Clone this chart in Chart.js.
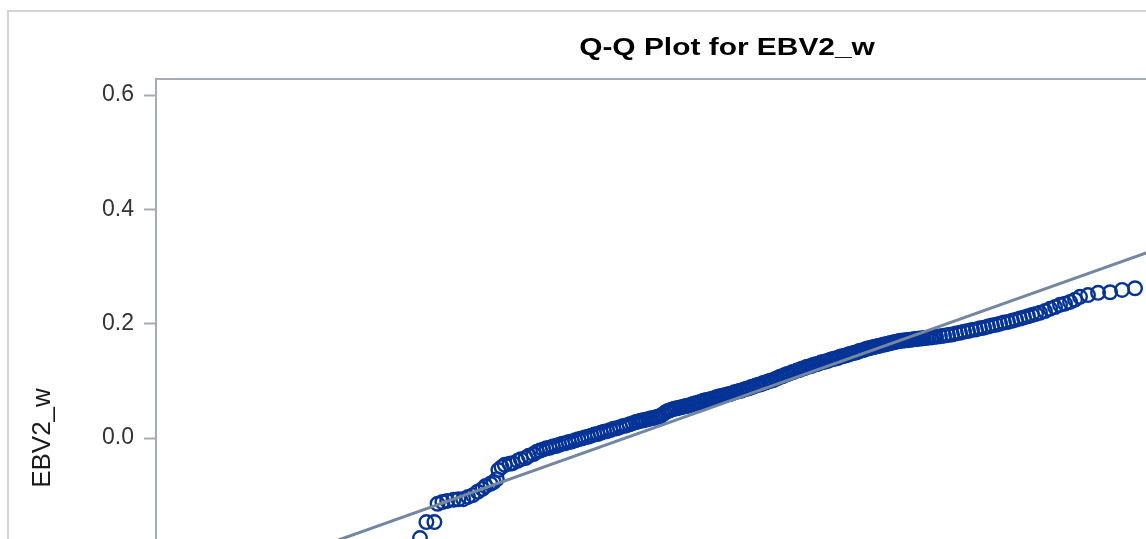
<!DOCTYPE html>
<html>
<head>
<meta charset="utf-8">
<title>Q-Q Plot for EBV2_w</title>
<script src="https://cdn.jsdelivr.net/npm/chart.js@4.4.1/dist/chart.umd.min.js"></script>
<style>
  html, body { margin: 0; padding: 0; background: #ffffff; overflow: hidden; }
  #wrap { position: absolute; left: 0; top: 0; width: 1460px; height: 860px; }
</style>
</head>
<body>
<div id="wrap"><canvas id="qq" width="1460" height="860"></canvas></div>
<script>
// Normal quantiles (x) of the ordered observations
const normalQuantiles = [
  -2.35, -2.31, -2.26, -2.24, -2.21, -2.18, -2.14, -2.11, -2.08, -2.05,
  -2.02, -1.99, -1.96, -1.94, -1.91, -1.89, -1.87, -1.86, -1.84, -1.82,
  -1.79, -1.77, -1.74, -1.72, -1.69, -1.67, -1.64, -1.62, -1.60,
  -1.58, -1.56, -1.54, -1.52, -1.50, -1.48, -1.46, -1.44, -1.42, -1.40,
  -1.38, -1.36, -1.34, -1.32, -1.30, -1.28, -1.26, -1.24, -1.22, -1.20,
  -1.18, -1.16, -1.14, -1.12, -1.10, -1.08, -1.06, -1.04, -1.02, -1.00,
  -0.985, -0.970, -0.955, -0.940, -0.925, -0.910, -0.895, -0.880, -0.865, -0.850,
  -0.835, -0.820, -0.805, -0.790, -0.775, -0.760, -0.745, -0.730, -0.715, -0.700,
  -0.685, -0.670, -0.655, -0.640, -0.625, -0.610, -0.595, -0.580, -0.565, -0.550,
  -0.535, -0.520, -0.505, -0.490, -0.475, -0.460, -0.445, -0.430, -0.415, -0.400,
  -0.385, -0.370, -0.355, -0.340, -0.325, -0.310, -0.295, -0.280, -0.265, -0.250,
  -0.235, -0.220, -0.205, -0.190, -0.175, -0.160, -0.145, -0.130, -0.115, -0.100,
  -0.085, -0.070, -0.055, -0.040, -0.025, -0.010, 0.005, 0.020, 0.035, 0.050,
  0.065, 0.080, 0.095, 0.110, 0.125, 0.140, 0.155, 0.170, 0.185, 0.200,
  0.215, 0.230, 0.245, 0.260, 0.275, 0.290, 0.305, 0.320, 0.335, 0.350,
  0.365, 0.380, 0.395, 0.410, 0.425, 0.440, 0.455, 0.470, 0.485, 0.500,
  0.515, 0.530, 0.545, 0.560, 0.575, 0.590, 0.605, 0.620, 0.635, 0.650,
  0.665, 0.680, 0.695, 0.710, 0.725, 0.740, 0.755, 0.770, 0.785, 0.800,
  0.815, 0.830, 0.845, 0.860,
  0.875, 0.900, 0.925, 0.950, 0.975, 1.000, 1.025, 1.050, 1.075, 1.100,
  1.125, 1.150, 1.175, 1.200, 1.225, 1.250, 1.275, 1.300, 1.325, 1.350,
  1.375, 1.400, 1.425, 1.450, 1.475, 1.500, 1.525, 1.556, 1.588, 1.619,
  1.650, 1.681, 1.713, 1.744, 1.775, 1.825, 1.888, 1.963, 2.038, 2.119
];

// Ordered EBV2_w observations
const ebv2W = [
  -0.175, -0.147, -0.147, -0.115, -0.112, -0.110, -0.108, -0.107, -0.107, -0.103,
  -0.100, -0.094, -0.089, -0.084, -0.080, -0.077, -0.072, -0.056, -0.051, -0.047,
  -0.045, -0.044, -0.040, -0.037, -0.035, -0.031, -0.028, -0.024, -0.022,
  -0.020, -0.018, -0.017, -0.015, -0.014, -0.012, -0.010, -0.009, -0.007, -0.006,
  -0.004, -0.002, -0.001, 0.001, 0.002, 0.004, 0.006, 0.007, 0.009, 0.011,
  0.012, 0.014, 0.016, 0.017, 0.019, 0.021, 0.022, 0.024, 0.026, 0.028,
  0.029, 0.030, 0.031, 0.032, 0.033, 0.034, 0.035, 0.036, 0.037, 0.038,
  0.041, 0.044, 0.047, 0.048, 0.050, 0.051, 0.052, 0.053, 0.054, 0.055,
  0.056, 0.057, 0.058, 0.060, 0.061, 0.062, 0.063, 0.065, 0.066, 0.067,
  0.068, 0.069, 0.070, 0.072, 0.073, 0.074, 0.075, 0.076, 0.077, 0.078,
  0.080, 0.081, 0.082, 0.083, 0.085, 0.086, 0.087, 0.089, 0.090, 0.092,
  0.093, 0.094, 0.096, 0.097, 0.099, 0.100, 0.101, 0.103, 0.105, 0.107,
  0.108, 0.110, 0.112, 0.113, 0.115, 0.116, 0.118, 0.119, 0.121, 0.122,
  0.124, 0.125, 0.126, 0.128, 0.129, 0.130, 0.132, 0.133, 0.134, 0.135,
  0.137, 0.138, 0.139, 0.140, 0.142, 0.143, 0.144, 0.145, 0.147, 0.148,
  0.149, 0.150, 0.152, 0.153, 0.154, 0.156, 0.157, 0.158, 0.159, 0.160,
  0.161, 0.162, 0.163, 0.164, 0.165, 0.166, 0.167, 0.168, 0.169, 0.170,
  0.170, 0.171, 0.171, 0.172, 0.172, 0.173, 0.173, 0.174, 0.174, 0.175,
  0.175, 0.176, 0.176, 0.177,
  0.177, 0.178, 0.179, 0.180, 0.181, 0.183, 0.184, 0.186, 0.187, 0.189,
  0.190, 0.192, 0.193, 0.195, 0.197, 0.198, 0.200, 0.202, 0.203, 0.205,
  0.207, 0.209, 0.211, 0.213, 0.215, 0.217, 0.219, 0.222, 0.226, 0.229,
  0.233, 0.235, 0.238, 0.242, 0.247, 0.250, 0.254, 0.255, 0.259, 0.262
];

// Reference line: mean 0.106, standard deviation 0.0996, over the quantile range
const refQuantiles = [-4, 4];
const refValues = [-0.292, 0.504];

// Y-axis tick values
const yTicks = [-0.6, -0.4, -0.2, 0.0, 0.2, 0.4, 0.6];

const titleText = 'Q-Q Plot for EBV2_w';
const yLabel = 'EBV2_w';

const FONT = '"Liberation Sans", Arial, Helvetica, sans-serif';
Chart.defaults.font.family = FONT;

const points = normalQuantiles.map((q, i) => ({ x: q, y: ebv2W[i] }));
const refLine = refQuantiles.map((q, i) => ({ x: q, y: refValues[i] }));

// Outer graph border, plot frame and a horizontally wide bold title
const frames = {
  id: 'frames',
  beforeDraw(chart) {
    const { ctx, width, height } = chart;
    ctx.save();
    ctx.fillStyle = '#ffffff';
    ctx.fillRect(0, 0, width, height);
    ctx.strokeStyle = '#d4d4d4';
    ctx.lineWidth = 2;
    ctx.strokeRect(8, 11, width - 16, height - 22);
    ctx.restore();
  },
  beforeDatasetsDraw(chart) {
    const { ctx, chartArea: a } = chart;
    ctx.save();
    ctx.strokeStyle = '#a6acb3';
    ctx.lineWidth = 2;
    ctx.strokeRect(a.left, a.top, a.right - a.left, a.bottom - a.top);
    ctx.restore();
  },
  afterDraw(chart) {
    const { ctx } = chart;
    ctx.save();
    ctx.fillStyle = '#000000';
    ctx.font = 'bold 23px ' + FONT;
    ctx.textAlign = 'center';
    ctx.textBaseline = 'alphabetic';
    ctx.translate(727, 55);
    ctx.scale(1.3, 1);
    ctx.fillText(titleText, 0, 0);
    ctx.restore();
  }
};

new Chart(document.getElementById('qq'), {
  type: 'scatter',
  data: {
    datasets: [
      {
        label: 'Reference',
        data: refLine,
        showLine: true,
        borderColor: '#73879f',
        borderWidth: 3,
        pointRadius: 0,
        fill: false,
        order: 0
      },
      {
        label: yLabel,
        data: points,
        pointStyle: 'circle',
        pointRadius: 6.8,
        pointBorderWidth: 2.4,
        borderColor: '#053396',
        backgroundColor: 'rgba(0,0,0,0)',
        order: 1
      }
    ]
  },
  options: {
    responsive: false,
    animation: false,
    devicePixelRatio: 1,
    layout: { padding: { top: 79, right: 24, bottom: 63, left: 0 } },
    plugins: {
      legend: { display: false },
      title: { display: false },
      tooltip: { enabled: false }
    },
    scales: {
      x: {
        type: 'linear',
        min: -4,
        max: 4,
        display: false
      },
      y: {
        type: 'linear',
        min: -0.628,
        max: 0.628,
        afterFit(scale) { scale.width = 156; },
        afterBuildTicks(scale) { scale.ticks = yTicks.map(v => ({ value: v })); },
        border: { display: false },
        grid: {
          display: true,
          drawOnChartArea: false,
          drawTicks: true,
          tickLength: 12,
          tickWidth: 2,
          tickColor: '#a6acb3'
        },
        ticks: {
          padding: 10,
          color: '#333333',
          font: { size: 23 },
          callback: v => (Math.abs(v) < 1e-9 ? 0 : v).toFixed(1)
        },
        title: {
          display: true,
          text: yLabel,
          color: '#1a1a1a',
          font: { size: 26 },
          padding: { top: 27, bottom: 0 }
        }
      }
    }
  },
  plugins: [frames]
});
</script>
</body>
</html>
